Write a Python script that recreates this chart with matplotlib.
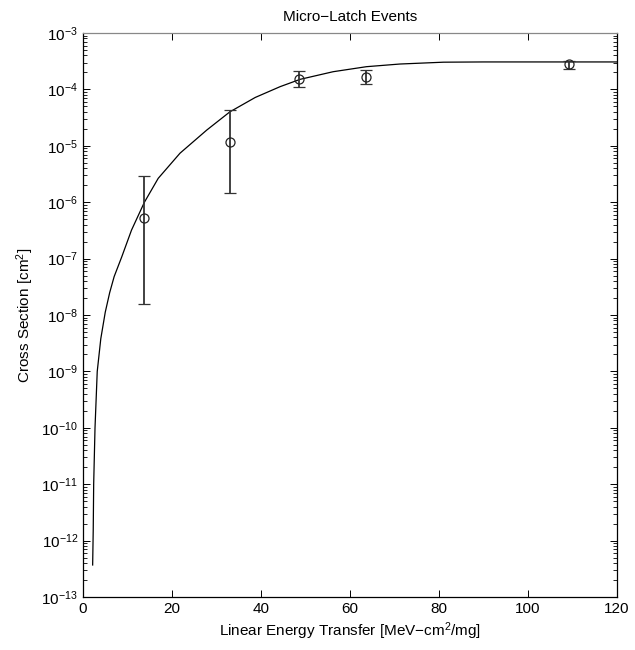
import numpy as np
import matplotlib
matplotlib.use("Agg")
import matplotlib.pyplot as plt
from matplotlib.ticker import LogLocator, NullFormatter, FixedLocator

plt.rcParams['font.family'] = ['Liberation Sans', 'DejaVu Sans']
plt.rcParams['mathtext.fontset'] = 'custom'
plt.rcParams['mathtext.rm'] = 'Liberation Sans'
plt.rcParams['mathtext.it'] = 'Liberation Sans'

# measured data points
let = [13.7, 33.0, 48.6, 63.7, 109.3]
xsec = [5.2e-7, 1.18e-5, 1.53e-4, 1.68e-4, 2.79e-4]
err_hi = [2.95e-6, 4.3e-5, 2.09e-4, 2.21e-4, 3.19e-4]
err_lo = [1.57e-8, 1.47e-6, 1.09e-4, 1.25e-4, 2.33e-4]

# fitted curve
fit_x = [2.17, 2.3, 2.4, 2.7, 3.2, 4.0, 5.0, 6.0, 7.0, 8.7, 10.9, 13.8, 16.9,
         21.8, 27.8, 33.0, 38.7, 44.3, 48.8, 56.2, 63.7, 71.2, 81, 90, 100, 120]
fit_y = [3.7e-13, 1.55e-12, 1e-11, 1e-10, 1e-9, 3.8e-9, 1.12e-8, 2.5e-8, 4.8e-8,
         1.07e-7, 3.2e-7, 1.0e-6, 2.65e-6, 7.4e-6, 1.9e-5, 4.0e-5, 7.2e-5,
         1.12e-4, 1.51e-4, 2.06e-4, 2.53e-4, 2.82e-4, 3.04e-4, 3.07e-4,
         3.07e-4, 3.07e-4]

fig = plt.figure(figsize=(6.35, 6.5), dpi=100)
ax = fig.add_axes([0.1307, 0.0815, 0.841, 0.8677])

ax.plot(fit_x, fit_y, color='black', linewidth=0.9)
yerr = [np.array(xsec) - np.array(err_lo), np.array(err_hi) - np.array(xsec)]
ax.errorbar(let, xsec, yerr=yerr, fmt='o', mfc='none', mec='#222222', ms=6.5,
            mew=0.9, ecolor='#333333', elinewidth=1.3, capsize=4.5, capthick=1.3)

ax.set_yscale('log')
ax.set_xlim(0, 120)
ax.set_ylim(1e-13, 1e-3)
ax.xaxis.set_major_locator(FixedLocator([0, 20, 40, 60, 80, 100, 120]))
ax.yaxis.set_major_locator(LogLocator(base=10, numticks=20))
ax.yaxis.set_minor_locator(LogLocator(base=10, subs=np.arange(2, 10), numticks=20))
ax.yaxis.set_minor_formatter(NullFormatter())
ax.tick_params(which='both', direction='in', top=True, right=True, labelsize=11)
ax.tick_params(which='major', length=5, width=0.7)
ax.tick_params(which='minor', length=3, width=0.6)
for s in ax.spines.values():
    s.set_linewidth(0.9)
ax.spines['top'].set_color('#888888')

ax.set_title('Micro\u2212Latch Events', fontsize=11, pad=9)
ax.set_xlabel('Linear Energy Transfer [MeV\u2212cm$^2$/mg]', fontsize=11, labelpad=3)
ax.set_ylabel('Cross Section [cm$^2$]', fontsize=11)

fig.savefig('out.png', dpi=100)
